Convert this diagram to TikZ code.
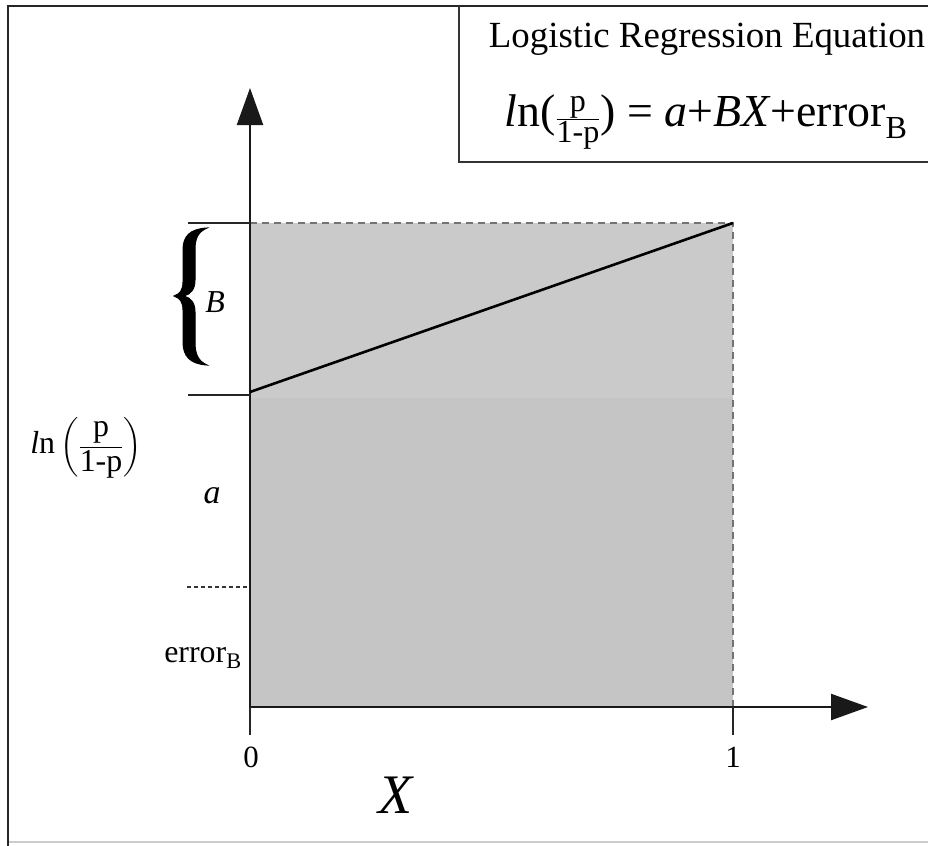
\documentclass[tikz,border=0pt]{standalone}
\usepackage{fontspec}
\setmainfont{Liberation Serif}
\usepackage{amsmath}
\usetikzlibrary{arrows.meta}
\tikzset{
  frameline/.style={line width=2.6bp, black!85},
  boxline/.style={line width=1.6bp, black!80},
  axisline/.style={line width=2.2bp, black!90, -{Triangle[length=37bp,width=26bp]}},
  thinline/.style={line width=1.3bp, black!85},
  edgedash/.style={line width=1.6bp, black!55, dash pattern=on 7bp off 5bp},
  smalldash/.style={line width=1.2bp, black!80, dash pattern=on 4bp off 3bp},
  regline/.style={line width=2.6bp, black},
  bracefill/.style={fill=black, draw=black, line width=1bp},
  lbl/.style={inner sep=0pt},
}
\definecolor{shadehi}{HTML}{CACACA}
\definecolor{shadelo}{HTML}{C5C5C5}
\begin{document}
\begin{tikzpicture}[x=1bp,y=-1bp]
\useasboundingbox (0,0) rectangle (928,846);
\fill[white] (0,0) rectangle (928,846);
% coordinates
\coordinate (O) at (250,707);
\coordinate (ytip) at (250,88);
\coordinate (xtip) at (868,707);
\coordinate (topL) at (188,223);
\coordinate (topA) at (250,223);
\coordinate (topR) at (733,223);
\coordinate (botR) at (733,707);
\coordinate (intL) at (188,395);
\coordinate (intA) at (250,395);
\coordinate (regA) at (250,392);
\coordinate (errL) at (187,587);
\coordinate (errA) at (250,587);
\coordinate (t0) at (250,735);
\coordinate (t1) at (733,735);
% shaded area
\fill[shadelo] (250,398) rectangle (733,707);
\fill[shadehi] (250,223) rectangle (733,398);
% outer frame
\draw[line width=1.5bp, black!20] (8,842) -- (935,842);
\draw[frameline] (8,850) -- (8,6) -- (935,6);
% equation box
\draw[boxline] (459,6) -- (459,162) -- (935,162);
\node[lbl, anchor=base, font=\fontsize{37}{40}\selectfont] (title) at (707,47) {Logistic Regression Equation};
\node[lbl, anchor=base, font=\fontsize{46}{50}\selectfont] (eqn) at (706,126)
  {\textit{l}n($\frac{\text{p}}{\text{1-p}}$) = \textit{a}+\textit{BX}+error\textsubscript{B}};
% dashed edges of region
\draw[edgedash] (topA) -- (topR) -- (botR);
% axes
\draw[axisline] (O) -- (ytip);
\draw[axisline] (O) -- (xtip);
\draw[thinline] (O) -- (t0);
\draw[thinline] (botR) -- (t1);
% level lines
\draw[thinline] (topL) -- (topA);
\draw[thinline] (intL) -- (intA);
\draw[smalldash] (errL) -- (errA);
% regression line
\draw[regline] (regA) -- (topR);
% brace (filled shape)
\filldraw[bracefill] (207,228) .. controls (190,229) and (183,236) .. (183,250)
  -- (183,282) .. controls (183,290) and (180,294) .. (174,296)
  .. controls (180,298) and (183,302) .. (183,310)
  -- (183,342) .. controls (183,356) and (190,364) .. (207,365)
  .. controls (198,361) and (195,354) .. (195,342)
  -- (195,312) .. controls (195,303) and (191,298) .. (184,296)
  .. controls (191,294) and (195,289) .. (195,280)
  -- (195,250) .. controls (195,238) and (198,232) .. (207,228) -- cycle;
% labels
\node[lbl, font=\fontsize{32}{34}\selectfont\itshape] (Blbl) at (215,302) {B};
\node[lbl, font=\fontsize{34}{36}\selectfont\itshape] (albl) at (212,496) {a};
\node[lbl, font=\fontsize{32}{34}\selectfont] (lnlbl) at (86,448)
  {\textit{l}n\,$\left(\dfrac{\text{p}}{\text{1-p}}\right)$};
\node[lbl, font=\fontsize{32}{34}\selectfont] (errlbl) at (203,658) {error\textsubscript{B}};
\node[lbl, font=\fontsize{31}{34}\selectfont] (zero) at (251,757) {0};
\node[lbl, font=\fontsize{31}{34}\selectfont] (one) at (733,757) {1};
\node[lbl, font=\fontsize{56}{60}\selectfont\itshape] (xlbl) at (396,795) {X};
\end{tikzpicture}
\end{document}
